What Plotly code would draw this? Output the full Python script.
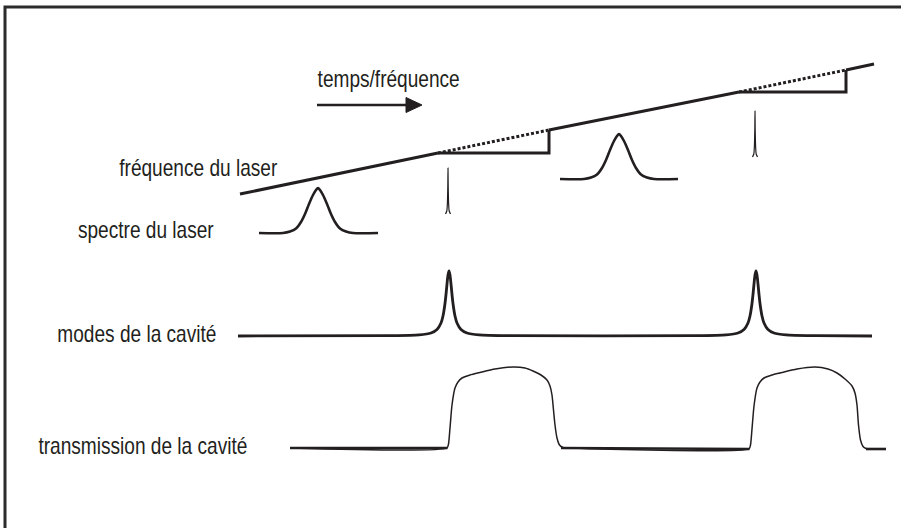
import plotly.graph_objects as go

INK = "#231f20"
FONT = "Liberation Sans, Arial, Helvetica, sans-serif"

# ---- diagram data (schematic coordinates, y grows downward) ----
frame_x = [5, 5, 901]
frame_y = [528, 7, 7]

arrow_x = [317, 410]
arrow_y = [105, 105]
arrowhead_x = [406, 422, 406, 406]
arrowhead_y = [97.5, 105, 112.5, 97.5]

# laser frequency ramp (solid pieces, dotted continuation, step back)
ramp1_x = [240, 438]
ramp1_y = [194, 153]
ramp1_dot_x = [438, 549]
ramp1_dot_y = [153, 130]
step1_x = [438, 549, 549]
step1_y = [153, 153, 130]
ramp2_x = [549, 739]
ramp2_y = [130, 92]
ramp2_dot_x = [739, 846]
ramp2_dot_y = [92, 70]
step2_x = [739, 846, 846]
step2_y = [92, 92, 70]
ramp3_x = [846, 874]
ramp3_y = [70, 64]

# laser spectrum (broad) during the sweep
spec1_x = [259, 283, 290, 296, 301, 305, 309, 313, 316, 318, 320, 323, 327, 331, 335, 340, 346, 353, 378]
spec1_y = [233, 233, 231.5, 228.5, 222, 214, 204, 195, 190, 188, 190, 195, 204, 214, 222, 228.5, 231.5, 233, 233]
spec2_x = [560, 584, 591, 597, 602, 606, 610, 614, 617, 619, 621, 624, 628, 632, 636, 641, 647, 654, 678]
spec2_y = [179, 179, 177.5, 174.5, 168, 160, 150, 141, 136, 134, 136, 141, 150, 160, 168, 174.5, 177.5, 179, 179]

# laser spectrum (narrowed) while locked
spike1_x = [445.5, 446.8, 447.4, 447.8, 448, 448.2, 448.6, 449.2, 450.5]
spike1_y = [214, 211, 203, 186, 168, 186, 203, 211, 214]
spike2_x = [752.5, 753.8, 754.4, 754.8, 755, 755.2, 755.6, 756.2, 757.5]
spike2_y = [157, 154, 146, 129, 111, 129, 146, 154, 157]

# cavity modes
modes_x = [238, 389, 419, 431, 437, 441, 443, 445, 446, 447, 448, 449, 450, 451, 452, 453, 455, 457, 461, 467, 479, 509,
           696, 726, 738, 744, 748, 750, 752, 753, 754, 755, 756, 757, 758, 759, 760, 762, 764, 768, 774, 786, 816, 872]
modes_y = [336, 335.7, 334.9, 333, 329.5, 323, 316, 303.5, 294.5, 284, 275, 271, 275, 284, 294.5, 303.5, 316, 323, 329.5, 333, 334.9, 335.7,
           335.7, 334.9, 333, 329.5, 323, 316, 303.5, 294.5, 284, 275, 271, 275, 284, 294.5, 303.5, 316, 323, 329.5, 333, 334.9, 335.7, 336]

# cavity transmission
trans_x = [290, 447, 448.5, 450, 452, 455, 458, 462, 470, 480, 495, 513, 525, 533, 541, 547, 550, 552, 553.5, 555, 557, 559.5, 563, 570,
           749, 750.5, 752, 754, 757, 760, 764, 772, 780, 797, 815, 828, 837, 845, 852, 855, 857, 858.5, 860.5, 863, 866, 870, 886]
trans_y = [448, 448, 444, 428, 405, 388, 382, 378, 375, 372.5, 369, 367, 368, 371, 375, 380, 386, 395, 410, 425, 438, 445, 447.5, 448,
           449, 445, 429, 406, 388, 382, 378, 375, 373, 369, 367, 369, 373, 379, 386, 393, 405, 425, 440, 446.5, 448.5, 449, 449]
base_x = [[290, 447.5], [561, 749.5], [866, 886]]
base_y = [[448, 448], [448, 449], [449, 449]]

labels = ["temps/fréquence", "fréquence du laser", "spectre du laser", "modes de la cavité", "transmission de la cavité"]
label_cx = [388.5, 198.5, 146, 136.5, 142.5]
label_base = [87, 176, 238, 342, 454]

fig = go.Figure()


def line(x, y, width, dash="solid", shape="linear", color=INK, smoothing=1.0):
    kw = dict(color=color, width=width, dash=dash, shape=shape)
    if shape == "spline":
        kw["smoothing"] = smoothing
    fig.add_trace(go.Scatter(x=x, y=y, mode="lines", line=kw, hoverinfo="skip", showlegend=False))


# frame
line(frame_x, frame_y, 3, color="#2b2b2b")

# arrow
line(arrow_x, arrow_y, 2.5)
fig.add_trace(go.Scatter(x=arrowhead_x, y=arrowhead_y, mode="lines", fill="toself", fillcolor=INK,
                         line=dict(color=INK, width=1), hoverinfo="skip", showlegend=False))

# frequency ramp
for xs, ys in [(ramp1_x, ramp1_y), (ramp2_x, ramp2_y), (ramp3_x, ramp3_y), (step1_x, step1_y), (step2_x, step2_y)]:
    line(xs, ys, 3)
for xs, ys in [(ramp1_dot_x, ramp1_dot_y), (ramp2_dot_x, ramp2_dot_y)]:
    line(xs, ys, 3, dash="3px,2px")

# spectra
line(spec1_x, spec1_y, 2.6, shape="spline", smoothing=0.8)
line(spec2_x, spec2_y, 2.6, shape="spline", smoothing=0.8)
line(spike1_x, spike1_y, 1.2, shape="spline", smoothing=0.6)
line(spike2_x, spike2_y, 1.2, shape="spline", smoothing=0.6)

# modes
line(modes_x, modes_y, 2.8, shape="spline", smoothing=0.7)

# transmission
line(trans_x, trans_y, 1.5, shape="spline", smoothing=0.6)
for xs, ys in zip(base_x, base_y):
    line(xs, ys, 2.6)

FS = 23
for t, cx, b in zip(labels, label_cx, label_base):
    fig.add_annotation(x=cx, y=b - 0.33 * FS, text=t, showarrow=False, xanchor="center", yanchor="middle",
                       font=dict(family=FONT, size=FS, color=INK))

fig.update_layout(
    width=901, height=528,
    margin=dict(l=0, r=0, t=0, b=0),
    paper_bgcolor="white", plot_bgcolor="white",
    xaxis=dict(range=[0, 901], visible=False, fixedrange=True),
    yaxis=dict(range=[528, 0], visible=False, fixedrange=True),
)

# condensed lettering (the original uses a narrow sans-serif)
post = """
document.body.style.margin='0';
document.documentElement.style.overflow='hidden';
var st=document.createElement('style');
st.textContent='.annotation-text{transform-box:fill-box;transform-origin:center;transform:scaleX(0.83);}';
document.head.appendChild(st);
"""

fig.write_html("out.html", config={"displayModeBar": False}, post_script=post)
